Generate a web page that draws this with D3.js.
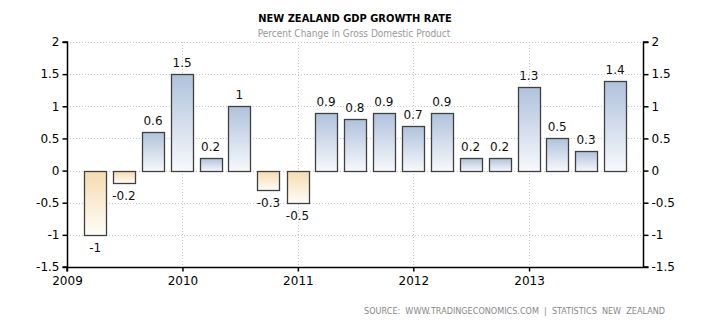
<!DOCTYPE html>
<html><head><meta charset="utf-8">
<script src="https://cdn.jsdelivr.net/npm/d3@7"></script>
<style>body{margin:0;background:#fff}svg{display:block}text{font-family:"DejaVu Sans",Verdana,sans-serif}</style>
</head><body><svg id="c" width="710" height="325"></svg>
<script>
const quarters = ["2009-03-31","2009-06-30","2009-09-30","2009-12-31","2010-03-31","2010-06-30","2010-09-30","2010-12-31","2011-03-31","2011-06-30","2011-09-30","2011-12-31","2012-03-31","2012-06-30","2012-09-30","2012-12-31","2013-03-31","2013-06-30","2013-09-30"];
const values = [-1,-0.2,0.6,1.5,0.2,1,-0.3,-0.5,0.9,0.8,0.9,0.7,0.9,0.2,0.2,1.3,0.5,0.3,1.4];
const yTicks = [-1.5,-1,-0.5,0,0.5,1,1.5,2];
const xTickYears = [2009,2010,2011,2012,2013];
const title = "NEW ZEALAND GDP GROWTH RATE";
const subtitle = "Percent Change in Gross Domestic Product";
const source = "SOURCE:  WWW.TRADINGECONOMICS.COM  |  STATISTICS  NEW  ZEALAND";

const svg = d3.select("#c");
const L = 67, R = 643, T = 42, B = 267;
const parse = d3.utcParse("%Y-%m-%d");
const x = d3.scaleUtc().domain([new Date(Date.UTC(2009,0,1)), new Date(Date.UTC(2014,0,1))]).range([L, L + 577.5]);
const y = d3.scaleLinear().domain([-1.5, 2]).range([B, T]);

const defs = svg.append("defs");
const gp = defs.append("linearGradient").attr("id","gp").attr("x1",0).attr("y1",0).attr("x2",0).attr("y2",1);
gp.append("stop").attr("offset","0%").attr("stop-color","#b0c2dc");
gp.append("stop").attr("offset","100%").attr("stop-color","#f7f9fc");
const gn = defs.append("linearGradient").attr("id","gn").attr("x1",0).attr("y1",0).attr("x2",0).attr("y2",1);
gn.append("stop").attr("offset","0%").attr("stop-color","#f5dcb0");
gn.append("stop").attr("offset","100%").attr("stop-color","#fffdf9");

// grid
svg.append("g").selectAll("line").data(yTicks.filter(d=>d>-1.5)).join("line")
  .attr("x1",L).attr("x2",R).attr("y1",d=>Math.round(y(d))+0.5).attr("y2",d=>Math.round(y(d))+0.5)
  .attr("stroke","#c8c8c8").attr("stroke-dasharray","1,2");
svg.append("g").selectAll("line").data(xTickYears.slice(1)).join("line")
  .attr("x1",d=>Math.round(x(new Date(Date.UTC(d,0,1))))+0.5).attr("x2",d=>Math.round(x(new Date(Date.UTC(d,0,1))))+0.5)
  .attr("y1",T).attr("y2",B).attr("stroke","#c8c8c8").attr("stroke-dasharray","1,2");

// bars
const bw = 22;
svg.append("g").selectAll("rect").data(values).join("rect")
  .attr("x",(d,i)=>Math.round(x(parse(quarters[i]))-bw/2)+0.5)
  .attr("y",d=>Math.round(y(Math.max(0,d)))+0.5)
  .attr("width",bw)
  .attr("height",d=>Math.abs(Math.round(y(d))-Math.round(y(0))))
  .attr("fill",d=>d>=0?"url(#gp)":"url(#gn)")
  .attr("stroke","#404040").attr("stroke-width",1.3);

// labels
svg.append("g").selectAll("text").data(values).join("text")
  .attr("x",(d,i)=>x(parse(quarters[i])))
  .attr("y",d=>d>=0? y(d)-7 : y(d)+17)
  .attr("text-anchor","middle").attr("font-size",12).attr("fill","#111")
  .text(d=>d);

// axes
const yl = d3.axisLeft(y).tickValues(yTicks).tickSize(5).tickFormat(d=>d);
const gl = svg.append("g").attr("transform",`translate(${L+0.5},0)`).call(yl);
const yr = d3.axisRight(y).tickValues(yTicks).tickSize(5).tickFormat(d=>d);
const gr = svg.append("g").attr("transform",`translate(${R+0.5},0)`).call(yr);
const xa = d3.axisBottom(x).tickValues(xTickYears.map(d=>new Date(Date.UTC(d,0,1)))).tickSize(4).tickFormat(d3.utcFormat("%Y"));
const gx = svg.append("g").attr("transform",`translate(0,${B+0.5})`).call(xa);
[gl,gr,gx].forEach(g=>{
  g.select(".domain").attr("stroke","#000").attr("stroke-width",1.5);
  g.selectAll(".tick line").attr("stroke","#000").attr("stroke-width",1.5);
  g.selectAll("text").attr("font-size",12).attr("fill","#000").attr("font-family","DejaVu Sans, Verdana, sans-serif");
});
gl.select(".domain").attr("d",`M-5,${y(2)}H0V${y(-1.5)}H-5`);
gr.select(".domain").attr("d",`M5,${y(2)}H0V${y(-1.5)}H5`);
gx.select(".domain").attr("d",`M${L},4V0H${R+0.5}`);
gx.selectAll("text").attr("dy","0.9em");

// titles
svg.append("text").attr("x",355).attr("y",22).attr("text-anchor","middle")
  .attr("font-family","DejaVu Sans Condensed, DejaVu Sans, sans-serif").attr("font-stretch","condensed")
  .attr("font-size",11).attr("font-weight","bold").attr("fill","#000").text(title);
svg.append("text").attr("x",354).attr("y",37).attr("text-anchor","middle")
  .attr("font-family","DejaVu Sans Condensed, DejaVu Sans, sans-serif").attr("font-stretch","condensed")
  .attr("font-size",10).attr("fill","#999").text(subtitle);
svg.append("text").attr("x",665).attr("y",314).attr("text-anchor","end")
  .attr("font-family","DejaVu Sans Condensed, DejaVu Sans, sans-serif").attr("font-stretch","condensed")
  .attr("xml:space","preserve").style("white-space","pre")
  .attr("font-size",9).attr("fill","#888").text(source);
</script></body></html>
